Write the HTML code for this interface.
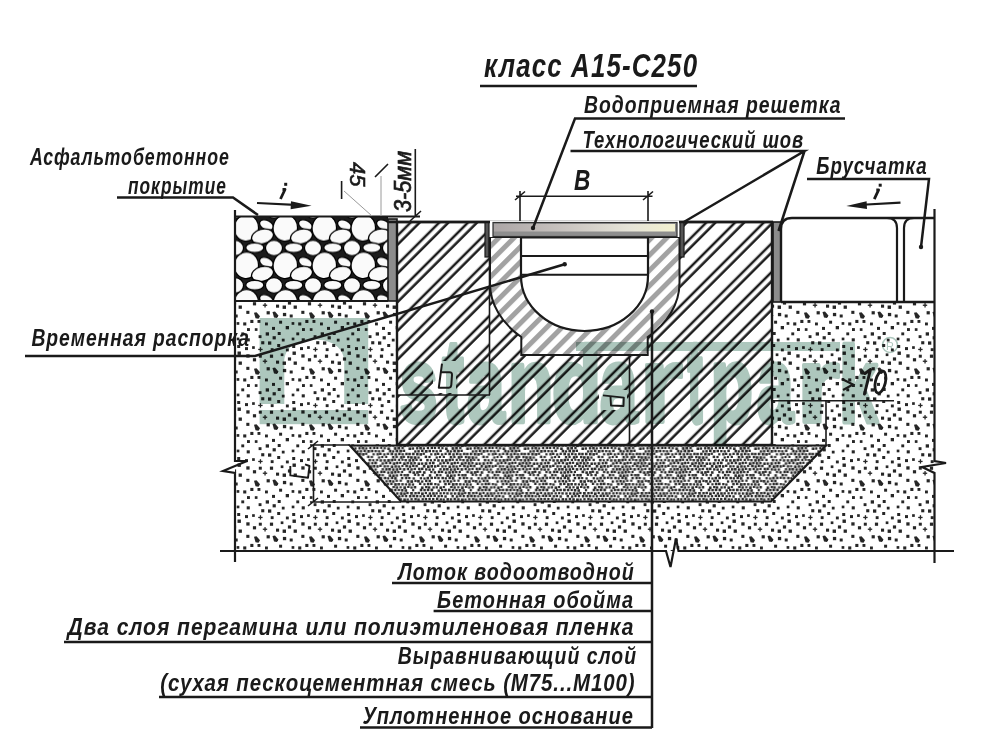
<!DOCTYPE html>
<html><head><meta charset="utf-8"><style>
html,body{margin:0;padding:0;background:#fff;}
svg{display:block;}
</style></head><body>
<svg width="1000" height="751" viewBox="0 0 1000 751">
<defs>
<pattern id="hatch" patternUnits="userSpaceOnUse" width="20" height="20.3" patternTransform="rotate(-45) translate(0,7.2)">
  <rect x="0" y="-1.25" width="20" height="2.5" fill="#1a1a1a"/><rect x="0" y="5.18" width="20" height="2.5" fill="#1a1a1a"/><rect x="0" y="19.05" width="20" height="2.5" fill="#1a1a1a"/>
</pattern>
<pattern id="hatch2" patternUnits="userSpaceOnUse" width="20" height="20.3" patternTransform="rotate(-45) translate(0,1.06)">
  <rect x="0" y="-1.25" width="20" height="2.5" fill="#1a1a1a"/><rect x="0" y="5.18" width="20" height="2.5" fill="#1a1a1a"/><rect x="0" y="19.05" width="20" height="2.5" fill="#1a1a1a"/>
</pattern>
<pattern id="ghatch" patternUnits="userSpaceOnUse" width="20" height="10.8" patternTransform="rotate(-45)">
  <rect x="0" y="0" width="20" height="5" fill="#a2a2a2"/>
</pattern>
<pattern id="sand" patternUnits="userSpaceOnUse" width="55" height="56" patternTransform="translate(3,1)">
  <g fill="#262626"><rect x="23.3" y="29.8" width="3.1" height="3.1"/><rect x="11.7" y="33.5" width="3" height="3"/><rect x="27.3" y="38.9" width="3.1" height="3.1"/><rect x="20.2" y="41.4" width="3.1" height="3.1"/><rect x="15.6" y="24.5" width="3.3" height="3.3"/><rect x="24" y="47.1" width="2.9" height="2.9"/><rect x="23.3" y="17.3" width="3.3" height="3.3"/><rect x="29.1" y="9.2" width="2.7" height="2.7"/><rect x="4.6" y="24.5" width="3.4" height="3.4"/><rect x="23.7" y="1.3" width="3.1" height="3.1"/><rect x="23.7" y="57.3" width="3.1" height="3.1"/><rect x="2.7" y="16.4" width="2.7" height="2.7"/><rect x="13.6" y="41.1" width="2.7" height="2.7"/><rect x="35.6" y="54.2" width="2.9" height="2.9"/><rect x="35.6" y="-1.8" width="2.9" height="2.9"/><path d="M31,31.8l2.5,-0.5l3.5,4l-1.5,2.5l-3,-0.5z"/><rect x="7.7" y="45" width="3.3" height="3.3"/><rect x="53" y="23.6" width="3.1" height="3.1"/><rect x="-2" y="23.6" width="3.1" height="3.1"/><rect x="29.9" y="21.2" width="3.2" height="3.2"/><rect x="18.3" y="51.4" width="2.9" height="2.9"/><rect x="18.3" y="-4.6" width="2.9" height="2.9"/><rect x="14.5" y="14.5" width="3.4" height="3.4"/><rect x="9.9" y="20.4" width="3.2" height="3.2"/><rect x="34.5" y="39" width="2.9" height="2.9"/><rect x="13.7" y="0.6" width="2.7" height="2.7"/><rect x="13.7" y="56.6" width="2.7" height="2.7"/><rect x="22" y="10.1" width="3" height="3"/><rect x="14.2" y="8" width="3" height="3"/><rect x="4.9" y="31.9" width="3.3" height="3.3"/><path d="M49.5,31l2.5,-0.5l3.5,4l-1.5,2.5l-3,-0.5z"/><path d="M-5.5,31l2.5,-0.5l3.5,4l-1.5,2.5l-3,-0.5z"/><rect x="1.1" y="39.7" width="3" height="3"/><rect x="56.1" y="39.7" width="3" height="3"/><rect x="49" y="45.9" width="3" height="3"/><rect x="35.2" y="11.8" width="4.4" height="1.3"/><rect x="36.8" y="10.2" width="1.3" height="4.4"/><rect x="7.9" y="11.5" width="2.9" height="2.9"/><rect x="39.8" y="23.6" width="4.4" height="1.3"/><rect x="41.4" y="22.1" width="1.3" height="4.4"/><rect x="49.6" y="-0.8" width="3.2" height="3.2"/><rect x="-5.4" y="-0.8" width="3.2" height="3.2"/><rect x="-5.4" y="55.2" width="3.2" height="3.2"/><rect x="49.6" y="55.2" width="3.2" height="3.2"/><rect x="42" y="41.5" width="2.9" height="2.9"/><rect x="31.8" y="47.2" width="2.7" height="2.7"/><rect x="3.8" y="1.7" width="2.8" height="2.8"/><rect x="3.8" y="57.7" width="2.8" height="2.8"/><rect x="-0.8" y="7" width="3" height="3"/><rect x="54.2" y="7" width="3" height="3"/><rect x="46.9" y="17.6" width="3.2" height="3.2"/><rect x="43.6" y="30.2" width="3.2" height="3.2"/><rect x="-0.3" y="51" width="3" height="3"/><rect x="-0.3" y="-5" width="3" height="3"/><rect x="54.7" y="-5" width="3" height="3"/><rect x="54.7" y="51" width="3" height="3"/><rect x="47.7" y="11.2" width="2.9" height="2.9"/><rect x="45" y="4.4" width="3.3" height="3.3"/><rect x="42.7" y="51.3" width="3.3" height="3.3"/><rect x="42.7" y="-4.7" width="3.3" height="3.3"/><rect x="35.8" y="17.7" width="3" height="3"/><rect x="38.2" y="4.2" width="3.1" height="3.1"/></g>
</pattern>
<pattern id="bed" patternUnits="userSpaceOnUse" width="57.6" height="54">
  <g fill="#2a2a2a"><rect x="0.2" y="0.3" width="2.7" height="2.7"/><rect x="57.8" y="0.3" width="2.7" height="2.7"/><rect x="4" y="-0.4" width="2.4" height="2.4"/><rect x="7.3" y="0.4" width="2.3" height="2.3"/><rect x="10.6" y="0" width="2.5" height="2.5"/><rect x="17.8" y="0.4" width="2.6" height="2.6"/><rect x="21.9" y="-0.3" width="2.5" height="2.5"/><rect x="24.8" y="0.3" width="2.3" height="2.3"/><rect x="29.2" y="0.3" width="2.3" height="2.3"/><rect x="32.4" y="0.2" width="2.3" height="2.3"/><rect x="36.2" y="0.4" width="2.6" height="2.6"/><rect x="39.5" y="-0.3" width="2.3" height="2.3"/><rect x="46.9" y="-0.4" width="2.5" height="2.5"/><rect x="50.2" y="0.3" width="2.4" height="2.4"/><rect x="54" y="0.2" width="2.2" height="2.2"/><rect x="1.4" y="3.2" width="2.6" height="2.6"/><rect x="8.9" y="3.1" width="2.2" height="2.2"/><rect x="16.6" y="2.7" width="2.6" height="2.6"/><rect x="20.2" y="2.9" width="2.4" height="2.4"/><rect x="23.6" y="2.6" width="2.6" height="2.6"/><rect x="27.3" y="2.6" width="2.7" height="2.7"/><rect x="34.3" y="3.4" width="2.4" height="2.4"/><rect x="37.8" y="2.8" width="2.4" height="2.4"/><rect x="41" y="2.7" width="2.5" height="2.5"/><rect x="44.7" y="2.6" width="2.7" height="2.7"/><rect x="48.5" y="2.8" width="2.5" height="2.5"/><rect x="52.2" y="2.9" width="2.2" height="2.2"/><rect x="55.4" y="3" width="2.6" height="2.6"/><rect x="-2.2" y="3" width="2.6" height="2.6"/><rect x="0.2" y="6.4" width="2.5" height="2.5"/><rect x="57.8" y="6.4" width="2.5" height="2.5"/><rect x="3.2" y="5.9" width="2.3" height="2.3"/><rect x="7" y="6" width="2.7" height="2.7"/><rect x="11.2" y="6" width="2.4" height="2.4"/><rect x="14.4" y="5.8" width="2.4" height="2.4"/><rect x="17.9" y="6.4" width="2.7" height="2.7"/><rect x="21.6" y="5.9" width="2.2" height="2.2"/><rect x="25.5" y="6.3" width="2.4" height="2.4"/><rect x="29" y="6.2" width="2.5" height="2.5"/><rect x="32.3" y="6.2" width="2.3" height="2.3"/><rect x="36.2" y="6.2" width="2.3" height="2.3"/><rect x="39.7" y="6.1" width="2.2" height="2.2"/><rect x="43" y="6.2" width="2.4" height="2.4"/><rect x="46.9" y="6.3" width="2.4" height="2.4"/><rect x="50.6" y="6.3" width="2.4" height="2.4"/><rect x="54.3" y="6.2" width="2.7" height="2.7"/><rect x="1.8" y="9" width="2.3" height="2.3"/><rect x="5.8" y="9" width="2.5" height="2.5"/><rect x="9.2" y="8.7" width="2.6" height="2.6"/><rect x="12.7" y="8.9" width="2.5" height="2.5"/><rect x="16.3" y="9.2" width="2.2" height="2.2"/><rect x="19.7" y="9.1" width="2.3" height="2.3"/><rect x="23.5" y="8.6" width="2.4" height="2.4"/><rect x="26.6" y="8.7" width="2.4" height="2.4"/><rect x="30.3" y="8.6" width="2.4" height="2.4"/><rect x="34.3" y="9.1" width="2.3" height="2.3"/><rect x="37.4" y="8.9" width="2.3" height="2.3"/><rect x="41.1" y="9.3" width="2.4" height="2.4"/><rect x="48.2" y="9" width="2.4" height="2.4"/><rect x="52.6" y="9.3" width="2.4" height="2.4"/><rect x="55.9" y="8.9" width="2.3" height="2.3"/><rect x="-1.7" y="8.9" width="2.3" height="2.3"/><rect x="0.1" y="12.4" width="2.7" height="2.7"/><rect x="57.7" y="12.4" width="2.7" height="2.7"/><rect x="3.5" y="12.4" width="2.2" height="2.2"/><rect x="7.3" y="12.1" width="2.3" height="2.3"/><rect x="11.2" y="11.9" width="2.4" height="2.4"/><rect x="14.2" y="12.4" width="2.4" height="2.4"/><rect x="18.4" y="12.1" width="2.3" height="2.3"/><rect x="21.6" y="11.9" width="2.4" height="2.4"/><rect x="25.2" y="11.8" width="2.4" height="2.4"/><rect x="28.9" y="11.9" width="2.3" height="2.3"/><rect x="32.7" y="11.6" width="2.5" height="2.5"/><rect x="36.4" y="12.3" width="2.3" height="2.3"/><rect x="39.3" y="12.4" width="2.3" height="2.3"/><rect x="43.2" y="12.1" width="2.5" height="2.5"/><rect x="46.5" y="12.2" width="2.4" height="2.4"/><rect x="50.3" y="11.8" width="2.5" height="2.5"/><rect x="53.9" y="12.2" width="2.5" height="2.5"/><rect x="5.4" y="15.4" width="2.6" height="2.6"/><rect x="8.6" y="15.3" width="2.4" height="2.4"/><rect x="12.8" y="15.1" width="2.4" height="2.4"/><rect x="16.1" y="14.9" width="2.6" height="2.6"/><rect x="19.6" y="15.3" width="2.2" height="2.2"/><rect x="23.6" y="14.9" width="2.3" height="2.3"/><rect x="27.4" y="14.7" width="2.4" height="2.4"/><rect x="30.6" y="14.8" width="2.3" height="2.3"/><rect x="34.5" y="14.6" width="2.3" height="2.3"/><rect x="38.1" y="15.1" width="2.2" height="2.2"/><rect x="41.8" y="15.4" width="2.6" height="2.6"/><rect x="48.3" y="15.1" width="2.7" height="2.7"/><rect x="51.9" y="14.8" width="2.7" height="2.7"/><rect x="55.9" y="14.9" width="2.3" height="2.3"/><rect x="-1.7" y="14.9" width="2.3" height="2.3"/><rect x="-0.4" y="17.6" width="2.4" height="2.4"/><rect x="57.2" y="17.6" width="2.4" height="2.4"/><rect x="11" y="18.3" width="2.3" height="2.3"/><rect x="14.2" y="18.1" width="2.4" height="2.4"/><rect x="17.9" y="17.6" width="2.5" height="2.5"/><rect x="21.7" y="18" width="2.7" height="2.7"/><rect x="25.3" y="17.8" width="2.5" height="2.5"/><rect x="29" y="18" width="2.3" height="2.3"/><rect x="32.3" y="18.2" width="2.3" height="2.3"/><rect x="36.1" y="17.6" width="2.5" height="2.5"/><rect x="43.3" y="17.8" width="2.6" height="2.6"/><rect x="46.6" y="18.3" width="2.2" height="2.2"/><rect x="50" y="17.7" width="2.7" height="2.7"/><rect x="53.8" y="17.7" width="2.7" height="2.7"/><rect x="2.1" y="20.7" width="2.5" height="2.5"/><rect x="5.2" y="20.8" width="2.5" height="2.5"/><rect x="8.9" y="20.7" width="2.6" height="2.6"/><rect x="12.9" y="20.9" width="2.6" height="2.6"/><rect x="16.3" y="21.1" width="2.6" height="2.6"/><rect x="19.4" y="20.6" width="2.3" height="2.3"/><rect x="27" y="21.2" width="2.2" height="2.2"/><rect x="31" y="21.1" width="2.4" height="2.4"/><rect x="33.8" y="20.7" width="2.3" height="2.3"/><rect x="37.7" y="21.3" width="2.3" height="2.3"/><rect x="41.2" y="20.7" width="2.3" height="2.3"/><rect x="45" y="20.6" width="2.7" height="2.7"/><rect x="49" y="21.2" width="2.5" height="2.5"/><rect x="52.6" y="20.7" width="2.5" height="2.5"/><rect x="56" y="21.2" width="2.3" height="2.3"/><rect x="-1.6" y="21.2" width="2.3" height="2.3"/><rect x="-0.4" y="23.8" width="2.2" height="2.2"/><rect x="57.2" y="23.8" width="2.2" height="2.2"/><rect x="4" y="23.9" width="2.4" height="2.4"/><rect x="7" y="24.2" width="2.6" height="2.6"/><rect x="10.6" y="24.2" width="2.7" height="2.7"/><rect x="14.3" y="24.4" width="2.2" height="2.2"/><rect x="21.5" y="23.6" width="2.5" height="2.5"/><rect x="25.2" y="23.9" width="2.2" height="2.2"/><rect x="32.4" y="24.4" width="2.2" height="2.2"/><rect x="35.6" y="23.9" width="2.2" height="2.2"/><rect x="39.5" y="23.8" width="2.2" height="2.2"/><rect x="46.5" y="24" width="2.4" height="2.4"/><rect x="50" y="23.8" width="2.3" height="2.3"/><rect x="54.4" y="24.1" width="2.6" height="2.6"/><rect x="1.4" y="27" width="2.4" height="2.4"/><rect x="5.3" y="27.1" width="2.6" height="2.6"/><rect x="8.8" y="27" width="2.6" height="2.6"/><rect x="12.3" y="26.8" width="2.2" height="2.2"/><rect x="16.5" y="26.8" width="2.3" height="2.3"/><rect x="23" y="26.9" width="2.5" height="2.5"/><rect x="26.6" y="27.2" width="2.2" height="2.2"/><rect x="30.4" y="26.9" width="2.2" height="2.2"/><rect x="34" y="27.2" width="2.5" height="2.5"/><rect x="37.9" y="27.2" width="2.5" height="2.5"/><rect x="41.7" y="27.1" width="2.7" height="2.7"/><rect x="45.2" y="26.8" width="2.6" height="2.6"/><rect x="48.3" y="26.6" width="2.3" height="2.3"/><rect x="52.4" y="26.8" width="2.2" height="2.2"/><rect x="55.9" y="26.6" width="2.2" height="2.2"/><rect x="-1.7" y="26.6" width="2.2" height="2.2"/><rect x="-0.1" y="30.3" width="2.7" height="2.7"/><rect x="57.5" y="30.3" width="2.7" height="2.7"/><rect x="3.4" y="29.9" width="2.4" height="2.4"/><rect x="6.8" y="30.1" width="2.6" height="2.6"/><rect x="10.4" y="30" width="2.3" height="2.3"/><rect x="14.4" y="30.4" width="2.6" height="2.6"/><rect x="17.8" y="30.4" width="2.4" height="2.4"/><rect x="21.5" y="30.2" width="2.7" height="2.7"/><rect x="25.6" y="30.1" width="2.3" height="2.3"/><rect x="28.7" y="29.6" width="2.7" height="2.7"/><rect x="36" y="30.3" width="2.4" height="2.4"/><rect x="39.4" y="29.7" width="2.5" height="2.5"/><rect x="43.4" y="29.8" width="2.4" height="2.4"/><rect x="47.2" y="30.3" width="2.6" height="2.6"/><rect x="50.3" y="29.7" width="2.6" height="2.6"/><rect x="53.6" y="29.7" width="2.2" height="2.2"/><rect x="2.2" y="32.7" width="2.6" height="2.6"/><rect x="5.6" y="33.3" width="2.5" height="2.5"/><rect x="8.9" y="32.6" width="2.5" height="2.5"/><rect x="12.3" y="32.9" width="2.4" height="2.4"/><rect x="19.7" y="33" width="2.6" height="2.6"/><rect x="23.8" y="33.3" width="2.7" height="2.7"/><rect x="27.2" y="33" width="2.6" height="2.6"/><rect x="30.7" y="33.2" width="2.5" height="2.5"/><rect x="33.8" y="32.6" width="2.4" height="2.4"/><rect x="38" y="33.2" width="2.4" height="2.4"/><rect x="41.2" y="33.2" width="2.2" height="2.2"/><rect x="45.2" y="33.4" width="2.6" height="2.6"/><rect x="48.9" y="33.2" width="2.5" height="2.5"/><rect x="52.2" y="33.4" width="2.3" height="2.3"/><rect x="55.8" y="32.9" width="2.2" height="2.2"/><rect x="-1.8" y="32.9" width="2.2" height="2.2"/><rect x="-0.3" y="36.1" width="2.6" height="2.6"/><rect x="57.3" y="36.1" width="2.6" height="2.6"/><rect x="3.7" y="35.9" width="2.3" height="2.3"/><rect x="7.2" y="36.2" width="2.4" height="2.4"/><rect x="10.5" y="35.8" width="2.3" height="2.3"/><rect x="14.8" y="35.7" width="2.5" height="2.5"/><rect x="17.8" y="35.6" width="2.5" height="2.5"/><rect x="21.9" y="36.2" width="2.4" height="2.4"/><rect x="25.2" y="36.4" width="2.4" height="2.4"/><rect x="28.9" y="36.4" width="2.3" height="2.3"/><rect x="36.1" y="36.1" width="2.3" height="2.3"/><rect x="39.7" y="36.1" width="2.5" height="2.5"/><rect x="42.8" y="36" width="2.6" height="2.6"/><rect x="46.6" y="36.3" width="2.5" height="2.5"/><rect x="50.2" y="36.2" width="2.6" height="2.6"/><rect x="53.6" y="35.7" width="2.3" height="2.3"/><rect x="5.5" y="38.6" width="2.6" height="2.6"/><rect x="9.3" y="39.3" width="2.6" height="2.6"/><rect x="13" y="39.1" width="2.7" height="2.7"/><rect x="15.8" y="38.6" width="2.3" height="2.3"/><rect x="19.8" y="39.2" width="2.6" height="2.6"/><rect x="27" y="38.9" width="2.3" height="2.3"/><rect x="30.5" y="39.2" width="2.4" height="2.4"/><rect x="34.6" y="38.6" width="2.6" height="2.6"/><rect x="37.6" y="38.7" width="2.4" height="2.4"/><rect x="41.6" y="39.4" width="2.4" height="2.4"/><rect x="45" y="39.2" width="2.6" height="2.6"/><rect x="48.4" y="38.9" width="2.6" height="2.6"/><rect x="51.8" y="38.9" width="2.3" height="2.3"/><rect x="55.4" y="38.8" width="2.2" height="2.2"/><rect x="-2.2" y="38.8" width="2.2" height="2.2"/><rect x="0.4" y="42" width="2.4" height="2.4"/><rect x="58" y="42" width="2.4" height="2.4"/><rect x="3.2" y="41.9" width="2.6" height="2.6"/><rect x="10.7" y="41.6" width="2.3" height="2.3"/><rect x="14.3" y="42" width="2.2" height="2.2"/><rect x="18.4" y="41.9" width="2.4" height="2.4"/><rect x="25.6" y="42.2" width="2.5" height="2.5"/><rect x="32.7" y="41.9" width="2.5" height="2.5"/><rect x="36.1" y="42.1" width="2.2" height="2.2"/><rect x="43.1" y="42.3" width="2.6" height="2.6"/><rect x="46.7" y="42.4" width="2.6" height="2.6"/><rect x="50.1" y="42.3" width="2.4" height="2.4"/><rect x="54.4" y="41.7" width="2.4" height="2.4"/><rect x="1.8" y="44.8" width="2.5" height="2.5"/><rect x="5.1" y="45" width="2.2" height="2.2"/><rect x="9.4" y="45.3" width="2.3" height="2.3"/><rect x="16.6" y="45.1" width="2.3" height="2.3"/><rect x="20.2" y="45.4" width="2.2" height="2.2"/><rect x="23.3" y="44.8" width="2.6" height="2.6"/><rect x="27.2" y="44.7" width="2.5" height="2.5"/><rect x="30.8" y="44.6" width="2.3" height="2.3"/><rect x="34.1" y="44.9" width="2.4" height="2.4"/><rect x="38.2" y="44.8" width="2.5" height="2.5"/><rect x="41.4" y="45.2" width="2.3" height="2.3"/><rect x="45.2" y="44.6" width="2.6" height="2.6"/><rect x="48.6" y="45.1" width="2.6" height="2.6"/><rect x="55.4" y="44.9" width="2.4" height="2.4"/><rect x="-2.2" y="44.9" width="2.4" height="2.4"/><rect x="3.6" y="48.1" width="2.7" height="2.7"/><rect x="7.2" y="48.2" width="2.7" height="2.7"/><rect x="11.2" y="47.8" width="2.3" height="2.3"/><rect x="14" y="48" width="2.6" height="2.6"/><rect x="17.9" y="48.4" width="2.3" height="2.3"/><rect x="21.9" y="47.7" width="2.4" height="2.4"/><rect x="25.3" y="47.7" width="2.4" height="2.4"/><rect x="35.7" y="48.4" width="2.3" height="2.3"/><rect x="39.9" y="48.2" width="2.3" height="2.3"/><rect x="43.3" y="47.9" width="2.5" height="2.5"/><rect x="46.6" y="48.3" width="2.4" height="2.4"/><rect x="50.1" y="47.7" width="2.2" height="2.2"/><rect x="54.1" y="47.6" width="2.2" height="2.2"/><rect x="1.8" y="51.3" width="2.2" height="2.2"/><rect x="5.1" y="51.2" width="2.5" height="2.5"/><rect x="8.7" y="51.4" width="2.3" height="2.3"/><rect x="15.8" y="50.6" width="2.4" height="2.4"/><rect x="20.2" y="51.2" width="2.2" height="2.2"/><rect x="23.7" y="50.7" width="2.6" height="2.6"/><rect x="26.8" y="50.6" width="2.6" height="2.6"/><rect x="31" y="51" width="2.3" height="2.3"/><rect x="34" y="51.4" width="2.3" height="2.3"/><rect x="41" y="50.9" width="2.5" height="2.5"/><rect x="44.7" y="50.7" width="2.4" height="2.4"/><rect x="48.6" y="51.1" width="2.7" height="2.7"/><rect x="52" y="51" width="2.5" height="2.5"/><rect x="55.8" y="51.1" width="2.4" height="2.4"/><rect x="-1.8" y="51.1" width="2.4" height="2.4"/></g>
</pattern>
<pattern id="asph" patternUnits="userSpaceOnUse" width="39" height="37.4" patternTransform="translate(235,216)">
  <rect width="39" height="37.4" fill="#1c1c1c"/><ellipse cx="11.3" cy="11.9" rx="12.2" ry="13.3" transform="rotate(10 11.3 11.9)" fill="#fafafa" stroke="#000" stroke-width="1.3"/><ellipse cx="31.5" cy="9.0" rx="7.3" ry="4.7" transform="rotate(25 31.5 9.0)" fill="#fafafa" stroke="#000" stroke-width="1.3"/><ellipse cx="27.5" cy="20.5" rx="11.2" ry="7.3" transform="rotate(-15 27.5 20.5)" fill="#fafafa" stroke="#000" stroke-width="1.3"/><ellipse cx="19.8" cy="31.7" rx="9.1" ry="4.9" transform="rotate(0 19.8 31.7)" fill="#fafafa" stroke="#000" stroke-width="1.3"/><ellipse cx="39.0" cy="32.0" rx="8.6" ry="7.8" transform="rotate(0 39.0 32.0)" fill="#fafafa" stroke="#000" stroke-width="1.3"/><ellipse cx="0.0" cy="32.0" rx="8.6" ry="7.8" transform="rotate(0 0.0 32.0)" fill="#fafafa" stroke="#000" stroke-width="1.3"/><ellipse cx="50.3" cy="11.9" rx="12.2" ry="13.3" transform="rotate(10 50.3 11.9)" fill="#fafafa" stroke="#000" stroke-width="1.3"/><ellipse cx="31.5" cy="46.4" rx="7.3" ry="4.7" transform="rotate(25 31.5 46.4)" fill="#fafafa" stroke="#000" stroke-width="1.3"/><ellipse cx="-7.5" cy="9.0" rx="7.3" ry="4.7" transform="rotate(25 -7.5 9.0)" fill="#fafafa" stroke="#000" stroke-width="1.3"/><ellipse cx="-11.5" cy="20.5" rx="11.2" ry="7.3" transform="rotate(-15 -11.5 20.5)" fill="#fafafa" stroke="#000" stroke-width="1.3"/><ellipse cx="11.3" cy="49.3" rx="12.2" ry="13.3" transform="rotate(10 11.3 49.3)" fill="#fafafa" stroke="#000" stroke-width="1.3"/><ellipse cx="19.8" cy="-5.7" rx="9.1" ry="4.9" transform="rotate(0 19.8 -5.7)" fill="#fafafa" stroke="#000" stroke-width="1.3"/><ellipse cx="39.0" cy="-5.4" rx="8.6" ry="7.8" transform="rotate(0 39.0 -5.4)" fill="#fafafa" stroke="#000" stroke-width="1.3"/><ellipse cx="0.0" cy="-5.4" rx="8.6" ry="7.8" transform="rotate(0 0.0 -5.4)" fill="#fafafa" stroke="#000" stroke-width="1.3"/>
</pattern>
<linearGradient id="grate" x1="0" x2="1" y1="0" y2="0">
  <stop offset="0" stop-color="#aca6a6"/><stop offset="0.4" stop-color="#cac5c1"/><stop offset="0.75" stop-color="#e6e4d8"/><stop offset="1" stop-color="#f3f1cf"/>
</linearGradient>
</defs>
<rect width="1000" height="751" fill="#fff"/>
<rect x="235" y="301" width="700" height="250" fill="url(#sand)"/><rect x="235" y="216" width="153" height="85" fill="url(#asph)"/><rect x="388" y="219" width="9" height="82" fill="#8c8c8c" stroke="#1a1a1a" stroke-width="1.6"/><rect x="773" y="222" width="8" height="80" fill="#8c8c8c" stroke="#1a1a1a" stroke-width="1.6"/><rect x="397" y="222" width="375" height="223" fill="#fff"/><rect x="397" y="222" width="375" height="223" fill="url(#hatch)"/><rect x="397" y="222" width="93" height="173" fill="#fff"/><rect x="397" y="222" width="93" height="173" fill="url(#hatch2)"/><rect x="397" y="222" width="375" height="223" fill="none" stroke="#1a1a1a" stroke-width="2.4"/><rect x="433" y="361" width="23" height="32" fill="#fff"/><rect x="599" y="390" width="28" height="20" fill="#fff"/><path d="M490,237 V283 A95,72.6 0 0 0 521.3,337 V355 H647.7 V337 A95,72.6 0 0 0 679.5,283 V237 Z" fill="#fff"/><path d="M490,237 V283 A95,72.6 0 0 0 521.3,337 V355 H647.7 V337 A95,72.6 0 0 0 679.5,283 V237 Z" fill="url(#ghatch)" stroke="#1a1a1a" stroke-width="2"/><path d="M521,237.5 V276 A63.5,55 0 0 0 648,276 V237.5 Z" fill="#fff" stroke="#1a1a1a" stroke-width="2.2"/><path d="M521,256 H648 M521,274.7 H648" stroke="#1a1a1a" stroke-width="2"/><rect x="489" y="221" width="191" height="16" fill="#fff"/><rect x="493" y="222.5" width="184" height="14" fill="#8e8e8e" stroke="#333" stroke-width="1.2"/><rect x="494" y="224" width="181" height="7.5" fill="url(#grate)"/><rect x="485" y="222" width="4" height="35" fill="#555" stroke="#1a1a1a" stroke-width="1.2"/><rect x="680" y="222" width="4" height="35" fill="#555" stroke="#1a1a1a" stroke-width="1.2"/><path d="M388,222 H490 M679,222 H773" stroke="#1a1a1a" stroke-width="2.6"/><path d="M350,445.5 H826 L771,501.5 H401 Z" fill="#fff"/><path d="M350,445.5 H826 L771,501.5 H401 Z" fill="url(#bed)" stroke="#1a1a1a" stroke-width="2.2"/><rect x="781" y="218" width="154" height="84" fill="#fff"/><path d="M781,302 V229 Q781,218 792,218 H935 M781,302 H935" fill="none" stroke="#1a1a1a" stroke-width="2.4"/><path d="M887,218 Q897,218 897,228 V302 M914,218 Q904,218 904,228 V302" fill="none" stroke="#1a1a1a" stroke-width="2.2"/><path d="M235,216.5 H420 M235,301 H388" stroke="#1a1a1a" stroke-width="2.2"/><path d="M235,210 V461 H247 L223,471 L235,473 V562" fill="none" stroke="#1a1a1a" stroke-width="2.2"/><path d="M934.5,209 V461 L946,463 L922,467 L934.5,473 V563" fill="none" stroke="#1a1a1a" stroke-width="2.2"/><path d="M220,551 H666 L670.5,567 L676,538.5 L678.5,551 H954" fill="none" stroke="#1a1a1a" stroke-width="2.2"/><g fill="#adc7bd" style="mix-blend-mode:multiply"><path d="M259.6,318 H368.2 V404 H344.2 V362 C344.2,348 332,339.6 314.2,339.6 C296,339.6 284.3,348 284.3,362 V404 H259.6 Z"/><rect x="259.6" y="410" width="108.6" height="14.2"/><text transform="matrix(0.6384,0,0,1.0,0,0.00)" x="625.94" y="422" font-family="Liberation Sans" font-weight="bold" font-size="107.7" stroke="#adc7bd" stroke-width="4" vector-effect="non-scaling-stroke" stroke-linejoin="round">s</text><text transform="matrix(0.6018,0,0,1.11,0,-46.42)" x="734.85" y="422" font-family="Liberation Sans" font-weight="bold" font-size="107.7" stroke="#adc7bd" stroke-width="4" vector-effect="non-scaling-stroke" stroke-linejoin="round">t</text><text transform="matrix(0.6269,0,0,1.0,0,0.00)" x="744.98" y="422" font-family="Liberation Sans" font-weight="bold" font-size="107.7" stroke="#adc7bd" stroke-width="4" vector-effect="non-scaling-stroke" stroke-linejoin="round">a</text><text transform="matrix(0.6922,0,0,1.0,0,0.00)" x="734.03" y="422" font-family="Liberation Sans" font-weight="bold" font-size="107.7" stroke="#adc7bd" stroke-width="4" vector-effect="non-scaling-stroke" stroke-linejoin="round">n</text><text transform="matrix(0.7555,0,0,1.0,0,0.00)" x="730.22" y="422" font-family="Liberation Sans" font-weight="bold" font-size="107.7" stroke="#adc7bd" stroke-width="4" vector-effect="non-scaling-stroke" stroke-linejoin="round">d</text><text transform="matrix(0.6269,0,0,1.0,0,0.00)" x="957.13" y="422" font-family="Liberation Sans" font-weight="bold" font-size="107.7" stroke="#adc7bd" stroke-width="4" vector-effect="non-scaling-stroke" stroke-linejoin="round">a</text><text transform="matrix(1.0246,0,0,1.0,0,0.00)" x="624.35" y="422" font-family="Liberation Sans" font-weight="bold" font-size="107.7" stroke="#adc7bd" stroke-width="4" vector-effect="non-scaling-stroke" stroke-linejoin="round">r</text><text transform="matrix(0.4212,0,0,1.11,0,-46.42)" x="1631.98" y="422" font-family="Liberation Sans" font-weight="bold" font-size="107.7" stroke="#adc7bd" stroke-width="4" vector-effect="non-scaling-stroke" stroke-linejoin="round">t</text><text transform="matrix(0.6449,0,0,1.0,0,0.00)" x="1101.57" y="422" font-family="Liberation Sans" font-weight="bold" font-size="107.7" stroke="#adc7bd" stroke-width="4" vector-effect="non-scaling-stroke" stroke-linejoin="round">p</text><text transform="matrix(0.6095,0,0,1.0,0,0.00)" x="1242.17" y="422" font-family="Liberation Sans" font-weight="bold" font-size="107.7" stroke="#adc7bd" stroke-width="4" vector-effect="non-scaling-stroke" stroke-linejoin="round">a</text><text transform="matrix(1.0246,0,0,1.0,0,0.00)" x="777.58" y="422" font-family="Liberation Sans" font-weight="bold" font-size="107.7" stroke="#adc7bd" stroke-width="4" vector-effect="non-scaling-stroke" stroke-linejoin="round">r</text><text transform="matrix(0.6478,0,0,1.0,0,0.00)" x="1295.29" y="422" font-family="Liberation Sans" font-weight="bold" font-size="107.7" stroke="#adc7bd" stroke-width="4" vector-effect="non-scaling-stroke" stroke-linejoin="round">k</text><rect x="576" y="342" width="264" height="9"/><circle cx="890" cy="345" r="7.5" fill="none" stroke="#adc7bd" stroke-width="1.6"/><text x="886" y="349.5" font-family="Liberation Sans" font-size="11">R</text></g><path d="M516,196.3 H652.5 M520,191 V221 M648,191 V221 M515,200 L525,191.5 M643,200 L653,191.5 M397,395 H490 M489.5,238 V395 M629.5,354 V445 M310,445 H350 M313.5,445 V502 M310,502 H401 M308,449 L318,441 M308,506 L318,498 M772,400.8 H894 M826,400.8 V445 M415.3,149 V217 M410,221 L421,211 M341.6,181 V199 M375,177 L388,164" fill="none" stroke="#1a1a1a" stroke-width="1.6"/><path d="M344,191 L372,216 M381,176 V216" stroke="#9a9a9a" stroke-width="1" fill="none"/><path d="M480,86 H697 M845,118.5 H575 L533,228 M570.5,151 H804.5 L683,222.5 M804.5,151 L778.5,231 M117,197.5 H233 L258,215 M807,179 H929 L921,247 M25,356 H255 L564.7,264.3 M392,583 H652 M433.6,611 H652 M64,642 H652 M159,697 H652 M360,727.6 H652 M652,311 V728" fill="none" stroke="#1a1a1a" stroke-width="2.5"/><circle cx="533" cy="228" r="2.2" fill="#1a1a1a"/><circle cx="921" cy="247" r="2.2" fill="#1a1a1a"/><circle cx="564.7" cy="264.3" r="2.2" fill="#1a1a1a"/><circle cx="652" cy="311.5" r="2.2" fill="#1a1a1a"/><path d="M257,203 L300,205.2" stroke="#1a1a1a" stroke-width="2.2"/><path d="M311.6,205.8 L291,201.2 L290.6,209.2 Z" fill="#1a1a1a"/><path d="M900.5,202.7 L858,205" stroke="#1a1a1a" stroke-width="2.2"/><path d="M846.3,205.9 L866.6,201.2 L867,209 Z" fill="#1a1a1a"/><path d="M442,363.7 L438.8,387.7 H449 Q451,387.7 451.3,385 L452,375 Q452.2,372.2 449.5,372.2 H440.2" fill="none" stroke="#1a1a1a" stroke-width="2" stroke-linejoin="round"/><path d="M290.3,466 V475.4 L308,477.8 L309.5,466 L305,464.3" fill="none" stroke="#1a1a1a" stroke-width="1.9" stroke-linejoin="round"/><path d="M603,395.4 L623.8,397.6 L623.5,406 L611,405.5 L610.5,397" fill="none" stroke="#1a1a1a" stroke-width="1.9" stroke-linejoin="round"/><path d="M282.5,189.5 H285 L280.5,199 M876.3,189.8 H878.6 L874.3,199.2" fill="none" stroke="#1a1a1a" stroke-width="2.8" stroke-linejoin="round"/><rect x="284.2" y="182.8" width="3" height="3" fill="#1a1a1a"/><rect x="878.7" y="183.7" width="3" height="3" fill="#1a1a1a"/><path d="M842,379 L853,384.5 L843,390" fill="none" stroke="#1a1a1a" stroke-width="2.2"/><path d="M870.5,369.5 L864.5,394 M870.5,369.5 L865,373.5" fill="none" stroke="#1a1a1a" stroke-width="3" stroke-linecap="round"/><ellipse cx="880.4" cy="382" rx="5" ry="11.3" transform="rotate(13 880.4 382)" fill="none" stroke="#1a1a1a" stroke-width="2.8"/><g font-family="Liberation Sans" font-style="italic" fill="#1a1a1a"><text transform="scale(0.791,1)" x="611.9" y="77.5" font-size="32.7" textLength="269.3" lengthAdjust="spacing" font-weight="bold" >класс А15-С250</text><text transform="scale(0.824,1)" x="708.7" y="113.5" font-size="23.5" textLength="311.3" lengthAdjust="spacing" font-weight="bold" >Водоприемная решетка</text><text transform="scale(0.787,1)" x="740.3" y="148" font-size="23.5" textLength="280.2" lengthAdjust="spacing" font-weight="bold" >Технологический шов</text><text transform="scale(0.755,1)" x="39.7" y="165.5" font-size="23.5" textLength="263.5" lengthAdjust="spacing" font-weight="bold" >Асфальтобетонное</text><text transform="scale(0.737,1)" x="173.6" y="194" font-size="23.5" textLength="132.9" lengthAdjust="spacing" font-weight="bold" >покрытие</text><text transform="scale(0.798,1)" x="1022.8" y="174.5" font-size="23.5" textLength="138.5" lengthAdjust="spacing" font-weight="bold" >Брусчатка</text><text transform="scale(0.822,1)" x="38.3" y="346.5" font-size="23.5" textLength="264.5" lengthAdjust="spacing" font-weight="bold" >Временная распорка</text><text transform="scale(0.837,1)" x="475.7" y="580.5" font-size="23.5" textLength="281.6" lengthAdjust="spacing" font-weight="bold" >Лоток водоотводной</text><text transform="scale(0.848,1)" x="515.4" y="608" font-size="23.5" textLength="231.1" lengthAdjust="spacing" font-weight="bold" >Бетонная обойма</text><text transform="scale(0.897,1)" x="75.4" y="635.5" font-size="23.5" textLength="630.7" lengthAdjust="spacing" font-weight="bold" >Два слоя пергамина или полиэтиленовая пленка</text><text transform="scale(0.826,1)" x="481.6" y="664.5" font-size="23.5" textLength="288.5" lengthAdjust="spacing" font-weight="bold" >Выравнивающий слой</text><text transform="scale(0.872,1)" x="183.9" y="691.5" font-size="23.5" textLength="543.9" lengthAdjust="spacing" font-weight="bold" >(сухая пескоцементная смесь (М75...М100)</text><text transform="scale(0.855,1)" x="424.1" y="724.5" font-size="23.5" textLength="316.1" lengthAdjust="spacing" font-weight="bold" >Уплотненное основание</text><text transform="scale(0.78,1)" x="735.9" y="190" font-size="29" font-weight="bold">B</text><text transform="translate(411,212) rotate(-90)" font-size="23" stroke="#1a1a1a" stroke-width="0.7" textLength="61" lengthAdjust="spacingAndGlyphs">3-5мм</text><text transform="translate(350,162) rotate(90)" font-size="22" stroke="#1a1a1a" stroke-width="0.6">45</text></g>
</svg>
</body></html>
